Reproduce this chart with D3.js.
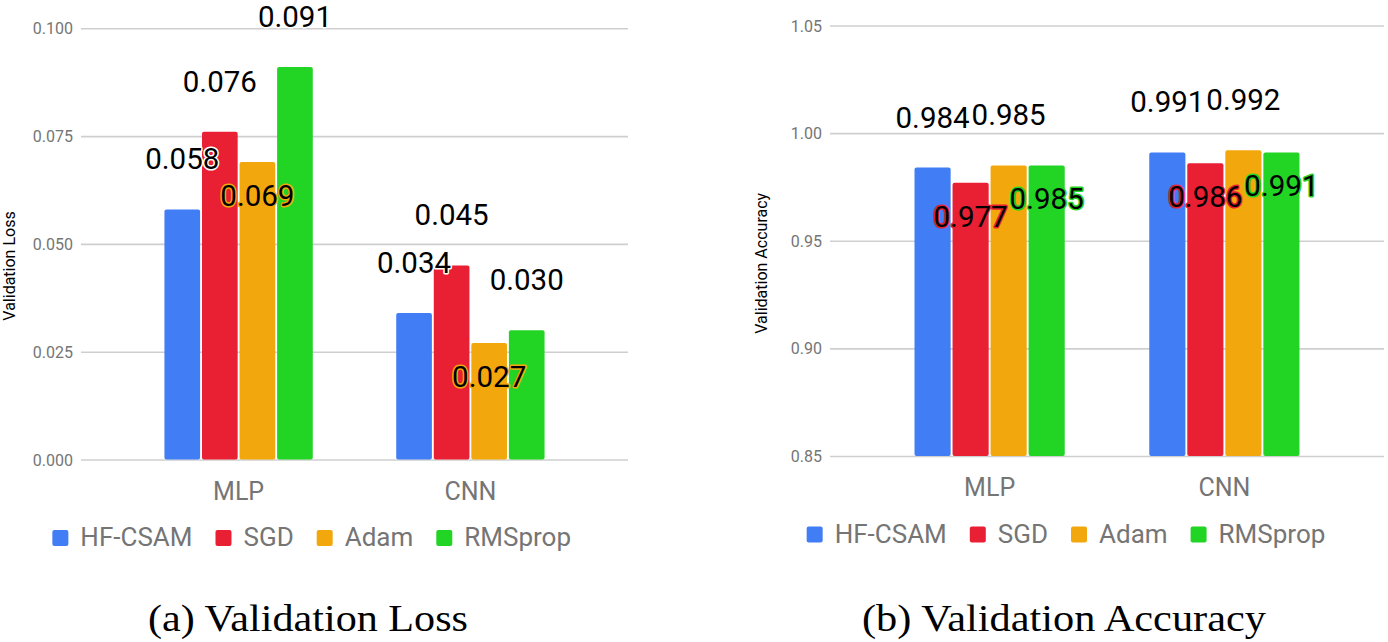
<!DOCTYPE html>
<html>
<head>
<meta charset="utf-8">
<script src="https://cdn.jsdelivr.net/npm/d3@7"></script>
<style>
  html, body { margin: 0; padding: 0; background: #fff; }
  svg { display: block; }
</style>
</head>
<body>
<svg id="chart" width="1388" height="642"></svg>
<script>
// ---------------- DATA ----------------
const categories = ["MLP", "CNN"];
const seriesNames = ["HF-CSAM", "SGD", "Adam", "RMSprop"];

const lossHFCSAM  = [0.058, 0.034];
const lossSGD     = [0.076, 0.045];
const lossAdam    = [0.069, 0.027];
const lossRMSprop = [0.091, 0.030];

const accHFCSAM  = [0.984, 0.991];
const accSGD     = [0.977, 0.986];
const accAdam    = [0.985, 0.992];
const accRMSprop = [0.985, 0.991];

const lossTicks = ["0.000", "0.025", "0.050", "0.075", "0.100"];
const accTicks  = ["0.85", "0.90", "0.95", "1.00", "1.05"];

const lossTitle = "Validation Loss";
const accTitle = "Validation Accuracy";
const lossCaption = "(a) Validation Loss";
const accCaption = "(b) Validation Accuracy";

// ---------------- STYLE / LAYOUT ----------------
const colors = ["#417DF5", "#E91F33", "#F2A80C", "#22D424"];
const FONT = "Roboto, 'Open Sans', Arial, sans-serif";

const svg = d3.select("#chart");

function drawChart(cfg) {
  const g = svg.append("g");
  const values = cfg.series; // array per series
  const y = d3.scaleLinear().domain(cfg.domain).range([cfg.bottom, cfg.top]);
  const x0 = d3.scaleBand().domain(categories).range([cfg.left, cfg.right])
    .paddingInner(0.36).paddingOuter(0.36);
  const x1 = d3.scaleBand().domain(seriesNames).range([0, x0.bandwidth()])
    .paddingInner(0.05).paddingOuter(0);

  // gridlines + tick labels via axis
  const axis = d3.axisLeft(y)
    .tickValues(cfg.ticks.map(Number))
    .tickFormat((d, i) => cfg.ticks[i])
    .tickSize(-(cfg.right - cfg.left))
    .tickPadding(8);
  const ag = g.append("g").attr("transform", `translate(${cfg.left},0)`).call(axis);
  ag.select(".domain").remove();
  ag.selectAll(".tick line").attr("stroke", "#cfcfcf").attr("stroke-width", 1.6);
  ag.selectAll(".tick text")
    .attr("fill", "#757575")
    .attr("font-family", FONT)
    .attr("font-size", 16)
    .attr("dy", "0.35em");

  // bars
  const rows = categories.map((c, ci) => ({
    cat: c,
    vals: seriesNames.map((s, si) => ({ s, si, v: values[si][ci] }))
  }));
  const groups = g.selectAll(".grp").data(rows).enter().append("g")
    .attr("transform", d => `translate(${x0(d.cat)},0)`);
  groups.selectAll("rect").data(d => d.vals).enter().append("rect")
    .attr("x", d => x1(d.s))
    .attr("width", x1.bandwidth())
    .attr("y", d => y(d.v))
    .attr("height", d => cfg.bottom - y(d.v))
    .attr("rx", 2)
    .attr("fill", d => colors[d.si]);

  // value labels
  groups.selectAll("text.val").data(d => d.vals).enter().append("text")
    .attr("class", "val")
    .attr("x", d => x1(d.s) + x1.bandwidth() / 2)
    .attr("y", d => cfg.inside.includes(d.s) ? y(d.v) + 44 : y(d.v) - 40)
    .attr("text-anchor", "middle")
    .attr("font-family", FONT)
    .attr("font-size", 29.5)
    .attr("fill", "#000")
    .attr("stroke", d => cfg.inside.includes(d.s) ? colors[d.si] : "#fff")
    .attr("stroke-width", 3)
    .attr("stroke-linejoin", "round")
    .attr("paint-order", "stroke")
    .text(d => d.v.toFixed(3));

  // category labels
  g.selectAll("text.cat").data(categories).enter().append("text")
    .attr("x", d => x0(d) + x0.bandwidth() / 2)
    .attr("y", cfg.bottom + 40)
    .attr("text-anchor", "middle")
    .attr("font-family", FONT)
    .attr("font-size", 25)
    .attr("fill", "#757575")
    .text(d => d);

  // y title
  g.append("text")
    .attr("transform", `translate(${cfg.titleX},${cfg.titleY}) rotate(-90)`)
    .attr("text-anchor", "middle")
    .attr("font-family", FONT)
    .attr("font-size", 16)
    .attr("fill", "#000")
    .text(cfg.title);

  // legend
  const lg = g.append("g");
  let cx = 0;
  seriesNames.forEach((s, i) => {
    const it = lg.append("g").attr("transform", `translate(${cx},0)`);
    it.append("rect").attr("x", 0).attr("y", cfg.bottom + 70.5)
      .attr("width", 16).attr("height", 16).attr("rx", 2).attr("fill", colors[i]);
    const t = it.append("text").attr("x", 28).attr("y", cfg.bottom + 86.5)
      .attr("font-family", FONT).attr("font-size", 26).attr("fill", "#757575").text(s);
    cx += 28 + t.node().getComputedTextLength() + 23;
  });
  const total = cx - 23;
  lg.attr("transform", `translate(${cfg.legendCenter - total / 2},0)`);

  // caption
  svg.append("text")
    .attr("x", cfg.captionX)
    .attr("y", 631)
    .attr("text-anchor", "middle")
    .attr("font-family", "'Liberation Serif', 'Times New Roman', serif")
    .attr("font-size", 38)
    .attr("fill", "#000")
    .attr("textLength", cfg.captionLen)
    .attr("lengthAdjust", "spacingAndGlyphs")
    .text(cfg.caption);
}

drawChart({
  series: [lossHFCSAM, lossSGD, lossAdam, lossRMSprop],
  domain: [0, 0.1], ticks: lossTicks,
  left: 81, right: 628, top: 28.3, bottom: 459.5,
  inside: ["Adam"],
  title: lossTitle, titleX: 14.5, titleY: 266,
  legendCenter: 311.7,
  caption: lossCaption, captionX: 308, captionLen: 320
});

drawChart({
  series: [accHFCSAM, accSGD, accAdam, accRMSprop],
  domain: [0.85, 1.05], ticks: accTicks,
  left: 830, right: 1384, top: 25.5, bottom: 456,
  inside: ["SGD", "RMSprop"],
  title: accTitle, titleX: 766.5, titleY: 263.3,
  legendCenter: 1066,
  caption: accCaption, captionX: 1064, captionLen: 404
});
</script>
</body>
</html>
